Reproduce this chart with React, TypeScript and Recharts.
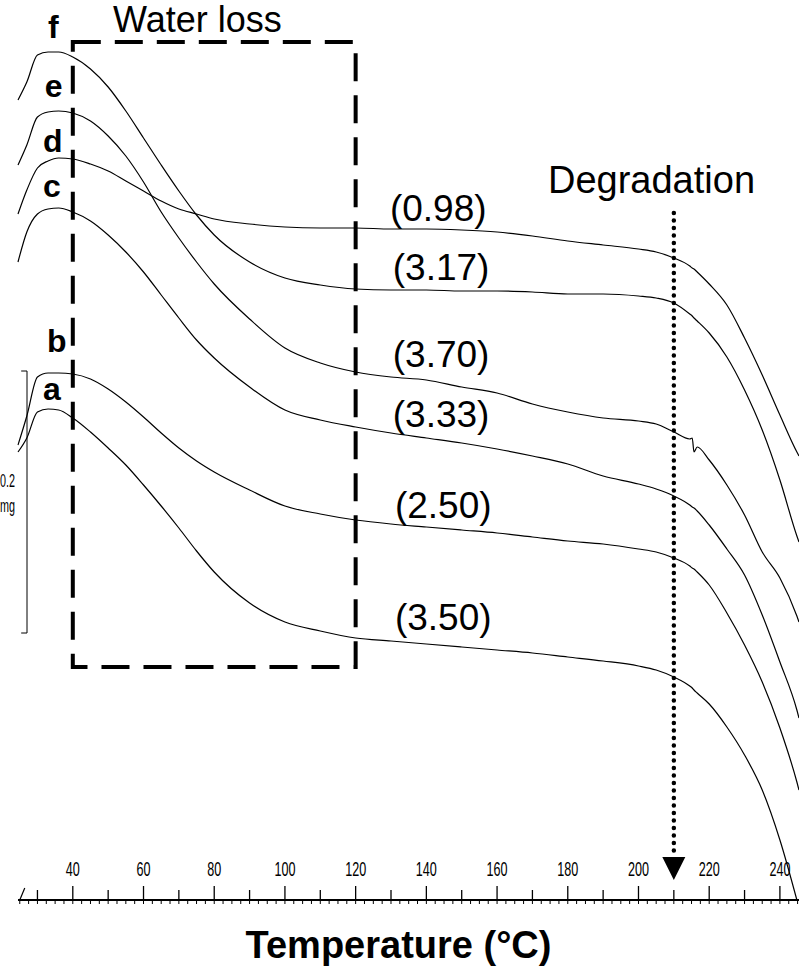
import { LineChart, Line, XAxis, YAxis, ReferenceArea, ReferenceLine, ReferenceDot, Label } from 'recharts';

// temperature (°C) sample points along the curves
const temps = [24.5, 27, 30, 33, 36, 40, 45, 50, 55, 60, 65, 70, 75, 80, 90, 100, 110, 120, 130, 140, 150, 160, 170, 180, 190, 200, 205, 210, 214.5, 215.2, 215.7, 216.6, 220, 225, 230, 235, 240, 244.8, 245.4];

// stacked TGA traces, mass signal (0.2 mg = 261 units), curves offset vertically
const curveF = [800, 818, 845, 848, 848, 843, 831, 813, 789, 762, 735, 709, 685, 665, 638, 622, 615, 611, 610, 610, 609, 609, 608, 606, 606, 604, 602, 597, 586, 584, 582, 579, 567, 543, 510, 470, 420, 364, 358];
const curveE = [735, 755, 783, 788, 789, 787, 779, 764, 744, 718, 688, 662, 638, 616, 581, 552, 537, 528, 523, 520, 513, 507, 496, 488, 482, 479, 476, 468, 461, 462, 448, 453, 440, 415, 385, 348, 322, 284, 278];
const curveD = [686, 710, 732, 739, 742, 741, 736, 729, 719, 709, 699, 691, 686, 681, 676, 673, 672, 672, 671, 671, 670, 668, 664, 659, 655, 651, 648, 642, 634, 632, 631, 628, 616, 595, 562, 525, 485, 448, 444];
const curveC = [638, 668, 686, 691, 692, 688, 679, 665, 648, 628, 605, 582, 560, 542, 513, 490, 480, 473, 467, 462, 457, 451, 444, 436, 424, 416, 411, 404, 395, 393, 392, 389, 375, 351, 325, 285, 238, 190, 182];
const curveB = [455, 484, 523, 527, 527, 526, 521, 511, 498, 483, 467, 452, 439, 428, 410, 394, 386, 380, 376, 373, 370, 367, 363, 359, 356, 351, 348, 342, 334, 332, 331, 328, 315, 287, 255, 218, 172, 118, 110];
const curveA = [448, 462, 488, 491, 490, 482, 468, 452, 435, 415, 394, 372, 349, 328, 297, 278, 269, 262, 259, 256, 253, 250, 247, 243, 239, 234, 230, 223, 214, 212, 210, 207, 196, 173, 145, 110, 60, 0, null];

const curveNames = ['f', 'e', 'd', 'c', 'b', 'a'];
const waterLoss = ['(0.98)', '(3.17)', '(3.70)', '(3.33)', '(2.50)', '(3.50)'];
const majorTicks = [40, 60, 80, 100, 120, 140, 160, 180, 200, 220, 240];
const axisTicks = Array.from({ length: 89 }, (_, i) => 25 + i * 2.5);

const rows = temps.map((t, i) => ({
  t,
  a: curveA[i],
  b: curveB[i],
  c: curveC[i],
  d: curveD[i],
  e: curveE[i],
  f: curveF[i],
}));

const SANS = "'Liberation Sans', Arial, Helvetica, sans-serif";

// positions of the annotations [temperature, signal]
const namePos: [number, number][] = [[33, 862], [32.1, 803], [31.6, 748], [31.6, 703], [32.7, 548], [31.6, 500]];
const lossPos: [number, number][] = [[129.7, 679], [130.5, 620], [130.5, 533], [130.5, 473], [131.1, 382], [131.1, 270]];

const textShape = (txt: string, size: number, weight = 'normal', anchor = 'start', dx = 0, squeeze = 1) =>
  (p: any) => (
    <text
      transform={`translate(${p.cx + dx},${p.cy}) scale(${squeeze},1)`}
      fontSize={size}
      fontWeight={weight}
      fontFamily={SANS}
      textAnchor={anchor}
      fill="#000"
    >
      {txt}
    </text>
  );

function AxisTick({ x, y, payload }: any) {
  const v = payload.value;
  const mid = v % 10 === 0;
  const major = v % 20 === 0;
  return (
    <g>
      <line x1={x} x2={x} y1={y} y2={y + 4} stroke="#000" strokeWidth={1} />
      {mid && <line x1={x} x2={x} y1={y} y2={y - (major ? 14 : 10)} stroke="#000" strokeWidth={1.3} />}
      {majorTicks.includes(v) && (
        <text transform={`translate(${x},${y - 24}) scale(0.6,1)`} textAnchor="middle" fontSize={21} fontFamily={SANS} fill="#000">
          {v}
        </text>
      )}
      {v === 25 && <line x1={x} y1={y} x2={x + 5} y2={y - 12} stroke="#000" strokeWidth={1.2} />}
    </g>
  );
}

export default function App() {
  return (
    <div style={{ position: 'absolute', left: 0, top: 0, background: '#fff' }}>
      <LineChart width={799} height={967} data={rows} margin={{ top: 0, right: 0, bottom: 0, left: 18 }}>
        <XAxis
          type="number"
          dataKey="t"
          domain={[24.5, 245.4]}
          ticks={axisTicks}
          interval={0}
          tick={<AxisTick />}
          tickLine={false}
          tickSize={0}
          tickMargin={0}
          axisLine={{ stroke: '#000', strokeWidth: 2 }}
          height={67}
        >
          <Label
            content={({ viewBox }: any) => (
              <text
                x={viewBox.x + viewBox.width / 2 - 10}
                y={viewBox.y + 58}
                textAnchor="middle"
                fontSize={38}
                fontWeight="bold"
                fontFamily={SANS}
                fill="#000"
              >
                Temperature (°C)
              </text>
            )}
          />
        </XAxis>
        <YAxis hide type="number" domain={[0, 900]} />

        {curveNames.map((k) => (
          <Line
            key={k}
            dataKey={k}
            type="monotone"
            stroke="#000"
            strokeWidth={1.2}
            dot={false}
            activeDot={false}
            isAnimationActive={false}
          />
        ))}

        <ReferenceArea x1={40} x2={120} y1={233} y2={858} fill="none" stroke="#000" strokeWidth={4} strokeDasharray="28 14" />

        <ReferenceLine
          segment={[{ x: 210, y: 687 }, { x: 210, y: 44 }]}
          stroke="#000"
          strokeWidth={4.5}
          strokeDasharray="0.1 7.4"
          strokeLinecap="round"
        />
        <ReferenceDot
          x={210}
          y={32}
          shape={(p: any) => (
            <polygon points={`${p.cx - 11.5},${p.cy - 11} ${p.cx + 11.5},${p.cy - 11} ${p.cx},${p.cy + 12}`} fill="#000" />
          )}
        />

        {/* 0.2 mg scale bar */}
        <ReferenceLine segment={[{ x: 27.05, y: 529 }, { x: 27.05, y: 267 }]} stroke="#000" strokeWidth={1} />
        <ReferenceLine segment={[{ x: 25.4, y: 529 }, { x: 27.05, y: 529 }]} stroke="#000" strokeWidth={1} />
        <ReferenceLine segment={[{ x: 25.4, y: 267 }, { x: 27.05, y: 267 }]} stroke="#000" strokeWidth={1} />
        <ReferenceDot x={24.5} y={413} shape={textShape('0.2', 18, 'normal', 'end', -3, 0.6)} />
        <ReferenceDot x={24.5} y={388} shape={textShape('mg', 18, 'normal', 'end', -3, 0.6)} />

        <ReferenceDot x={51.4} y={868} shape={textShape('Water loss', 36)} />
        <ReferenceDot x={174.4} y={707} shape={textShape('Degradation', 38)} />

        {curveNames.map((n, i) => (
          <ReferenceDot key={'n' + n} x={namePos[i][0]} y={namePos[i][1]} shape={textShape(n, 32, 'bold')} />
        ))}
        {waterLoss.map((w, i) => (
          <ReferenceDot key={'w' + i} x={lossPos[i][0]} y={lossPos[i][1]} shape={textShape(w, 37)} />
        ))}
      </LineChart>
    </div>
  );
}
